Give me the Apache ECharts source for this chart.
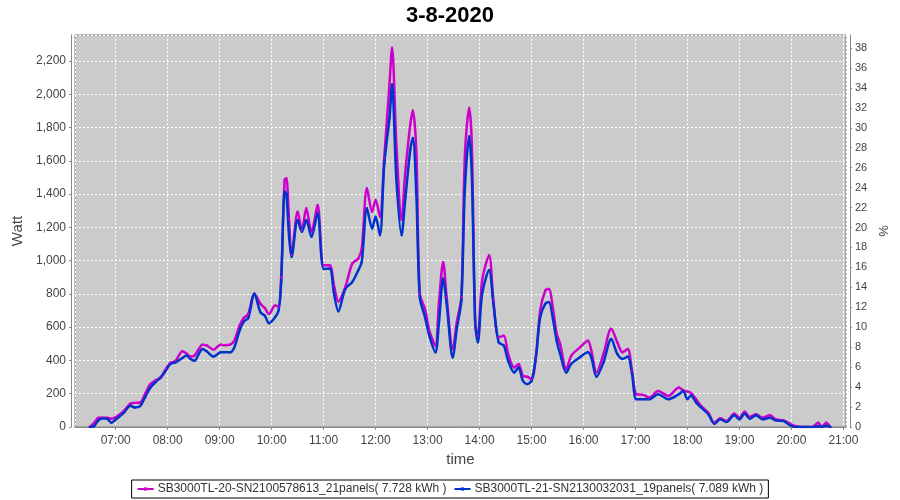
<!DOCTYPE html>
<html>
<head>
<meta charset="utf-8">
<title>3-8-2020</title>
<script src="https://cdn.jsdelivr.net/npm/echarts@6/dist/echarts.min.js"></script>
<style>
  html, body { margin: 0; padding: 0; background: #fff; }
  #main { width: 900px; height: 500px; }
</style>
</head>
<body>
<div id="main"></div>
<script>
var day = "2020-03-08";
var chartTitle = "3-8-2020";
var seriesNames = [
  "SB3000TL-20-SN2100578613_21panels( 7.728 kWh )",
  "SB3000TL-21-SN2130032031_19panels( 7.089 kWh )"
];

// sample times (hh:mm)
var times = [
  "06:30","06:35","06:40","06:45","06:50","06:55","07:00","07:05","07:10","07:17",
  "07:22","07:28","07:34","07:40","07:46","07:52","07:58","08:03","08:09","08:17",
  "08:22","08:26","08:31","08:36","08:40","08:45","08:53","09:01","09:05","09:12",
  "09:17","09:23","09:28","09:33","09:40","09:47","09:52","09:57","10:04","10:08",
  "10:11","10:15","10:17","10:20","10:23","10:30","10:35","10:40","10:46","10:53",
  "11:00","11:07","11:12","11:17","11:25","11:33","11:40","11:44","11:50","11:56",
  "12:00","12:05","12:10","12:16","12:19","12:24","12:30","12:34","12:40","12:43",
  "12:47","12:51","12:57","13:02","13:09","13:13","13:18","13:22","13:29","13:34",
  "13:39","13:43","13:48","13:51","13:55","13:58","14:03","14:11","14:16","14:22",
  "14:28","14:33","14:40","14:45","14:50","14:55","15:00","15:05","15:10","15:16",
  "15:20","15:25","15:29","15:33","15:40","15:46","15:56","16:05","16:09","16:15",
  "16:23","16:32","16:39","16:45","16:51","16:56","17:01","17:09","17:16","17:26",
  "17:38","17:50","17:55","18:00","18:04","18:10","18:15","18:24","18:31","18:38",
  "18:45","18:54","19:00","19:06","19:12","19:19","19:27","19:35","19:42","19:51",
  "19:58","20:04","20:14","20:24","20:31","20:35","20:40","20:45"
];

// SB3000TL-20 (Watt)
var watt20 = [
  0, 25, 55, 56, 55, 50, 60, 77, 100, 141,
  145, 147, 200, 258, 280, 298, 350, 385, 398, 455,
  440, 423, 430, 470, 495, 490, 465, 495, 492, 495,
  520, 610, 656, 680, 801, 741, 715, 680, 730, 725,
  900, 1485, 1495, 1250, 1032, 1294, 1183, 1314, 1173, 1334,
  972, 972, 850, 755, 841, 982, 1012, 1073, 1435, 1294,
  1364, 1264, 1620, 2059, 2280, 1696, 1244, 1515, 1817, 1902,
  1656, 800, 710, 580, 489, 741, 992, 781, 469, 640,
  781, 1626, 1918, 1706, 620, 549, 881, 1032, 760, 539,
  549, 439, 358, 378, 308, 302, 288, 418, 700, 821,
  830, 700, 560, 500, 348, 429, 479, 519, 459, 328,
  439, 590, 509, 449, 469, 338, 197, 193, 177, 217,
  187, 237, 220, 213, 205, 167, 130, 86, 26, 52,
  36, 80, 56, 92, 60, 77, 56, 71, 46, 40,
  20, 6, 0, 0, 26, 0, 26, 0
];

// SB3000TL-21 (Watt)
var watt21 = [
  0, 5, 40, 52, 50, 26, 45, 66, 90, 127,
  117, 125, 180, 237, 270, 298, 340, 378, 388, 415,
  429, 410, 398, 440, 469, 455, 423, 449, 450, 449,
  480, 580, 635, 655, 801, 690, 670, 624, 660, 700,
  871, 1415, 1400, 1153, 1022, 1244, 1173, 1244, 1143, 1284,
  950, 952, 800, 695, 830, 871, 942, 992, 1314, 1193,
  1264, 1153, 1580, 1857, 2059, 1485, 1153, 1354, 1666, 1737,
  1400, 780, 660, 549, 449, 620, 892, 741, 418, 600,
  761, 1425, 1747, 1525, 620, 509, 800, 942, 740, 509,
  489, 398, 328, 358, 278, 258, 278, 418, 660, 741,
  751, 640, 519, 439, 328, 380, 420, 449, 418, 302,
  388, 529, 439, 409, 423, 318, 167, 167, 167, 197,
  167, 197, 217, 167, 190, 147, 121, 77, 20, 46,
  30, 71, 46, 80, 50, 71, 46, 56, 40, 36,
  12, 0, 0, 0, 4, 0, 8, 0
];

var wattTicks = { min: 0, max: 2356, step: 200 };
var pctTicks = { min: 0, max: 39.3, step: 2 };

function ts(hm) {
  return new Date(day + "T" + hm + ":00").getTime();
}

function pairs(vals) {
  var out = [];
  for (var i = 0; i < times.length; i++) {
    out.push([ts(times[i]), vals[i]]);
  }
  return out;
}

var chart = echarts.init(document.getElementById("main"), null, { renderer: "canvas" });

var axisGray = "#888888";
var labelColor = "#444444";
var font = "Liberation Sans";

var option = {
  animation: false,
  backgroundColor: "#ffffff",
  title: {
    text: chartTitle,
    left: "center",
    top: 0,
    textStyle: { fontFamily: font, fontSize: 22, fontWeight: "bold", color: "#000" }
  },
  legend: {
    bottom: 2,
    left: "center",
    borderColor: "#000",
    borderWidth: 1,
    padding: [3, 5],
    itemGap: 7,
    itemWidth: 16,
    itemHeight: 4,
    textStyle: { fontFamily: font, fontSize: 12, color: "#333", padding: [0, 0, 0, -1] },
    data: seriesNames
  },
  grid: {
    left: 75,
    right: 54,
    top: 35,
    bottom: 73,
    show: true,
    backgroundColor: "#cbcbcb",
    borderColor: "#7f7f7f",
    borderWidth: 1
  },
  xAxis: {
    type: "time",
    min: ts("06:13"),
    max: ts("21:03"),
    splitNumber: 15,
    offset: 4,
    name: "time",
    nameLocation: "middle",
    nameGap: 21,
    nameTextStyle: { fontFamily: font, fontSize: 15, color: labelColor },
    axisLine: { lineStyle: { color: axisGray } },
    axisTick: { show: true, length: 3, lineStyle: { color: axisGray } },
    axisLabel: {
      formatter: "{HH}:{mm}",
      fontFamily: font,
      fontSize: 12,
      color: labelColor,
      margin: 4,
      hideOverlap: false
    },
    splitLine: { show: true, lineStyle: { color: "#ffffff", type: [2, 2], width: 1 } }
  },
  yAxis: [
    {
      type: "value",
      min: wattTicks.min,
      max: wattTicks.max,
      interval: wattTicks.step,
      position: "left",
      offset: 4,
      name: "Watt",
      nameLocation: "middle",
      nameGap: 41,
      nameTextStyle: { fontFamily: font, fontSize: 15, color: labelColor },
      axisLine: { show: true, lineStyle: { color: axisGray } },
      axisTick: { show: true, length: 2, lineStyle: { color: axisGray } },
      axisLabel: {
        showMaxLabel: false,
        fontFamily: font,
        fontSize: 12,
        color: labelColor,
        margin: 5,
        formatter: function (v) { return v.toLocaleString("en-US"); }
      },
      splitLine: { show: true, lineStyle: { color: "#ffffff", type: [2, 2], width: 1 } }
    },
    {
      type: "value",
      min: pctTicks.min,
      max: pctTicks.max,
      interval: pctTicks.step,
      position: "right",
      offset: 4,
      name: "%",
      nameLocation: "middle",
      nameGap: 26,
      nameRotate: 90,
      nameTextStyle: { fontFamily: font, fontSize: 13, color: labelColor },
      axisLine: { show: true, lineStyle: { color: axisGray } },
      axisTick: { show: true, length: 2, lineStyle: { color: axisGray } },
      axisLabel: {
        showMaxLabel: false,
        fontFamily: font,
        fontSize: 11,
        color: labelColor,
        margin: 5
      },
      splitLine: { show: false }
    }
  ],
  series: [
    {
      name: seriesNames[0],
      type: "line",
      smooth: 0.3,
      symbol: "rect",
      symbolSize: 2,
      showSymbol: true,
      itemStyle: { color: "#cc00cc" },
      lineStyle: { color: "#cc00cc", width: 2.5 },
      data: pairs(watt20)
    },
    {
      name: seriesNames[1],
      type: "line",
      smooth: 0.3,
      symbol: "rect",
      symbolSize: 2,
      showSymbol: true,
      itemStyle: { color: "#0033cc" },
      lineStyle: { color: "#0033cc", width: 2.5 },
      data: pairs(watt21)
    }
  ]
};

chart.setOption(option);
</script>
</body>
</html>
